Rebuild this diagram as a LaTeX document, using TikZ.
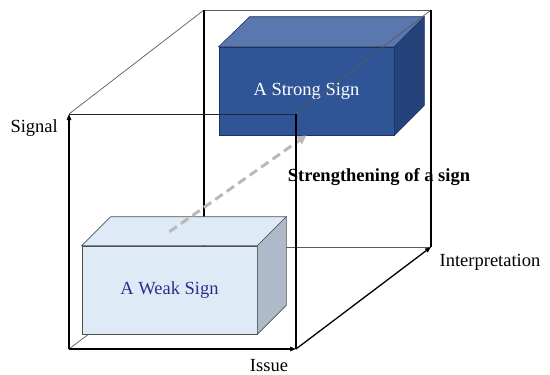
\documentclass[tikz,border=0pt]{standalone}
\usepackage{fontspec}
\setmainfont{Liberation Serif}
\usetikzlibrary{arrows.meta, calc, positioning}

\definecolor{strongFront}{RGB}{47,85,151}
\definecolor{strongTop}{RGB}{90,120,174}
\definecolor{strongSide}{RGB}{37,66,122}
\definecolor{strongLine}{RGB}{30,50,95}
\definecolor{weakFront}{RGB}{222,235,247}
\definecolor{weakSide}{RGB}{174,186,202}
\definecolor{weakText}{RGB}{44,46,140}
\definecolor{weakLine}{RGB}{80,80,80}

\begin{document}
\begin{tikzpicture}[
    x=1pt, y=-1pt,          % pixel units, y runs downwards
    >={Triangle[length=6pt,width=4.5pt]},
    lbl/.style={font=\fontsize{18.5}{21}\selectfont, inner sep=0pt},
    axis/.style={line width=1.3pt, black},
    post/.style={line width=1.2pt, black},
    rim/.style={line width=0.7pt, black!65},
    weakface/.style={draw=weakLine, line width=0.6pt, fill=weakFront},
    strongface/.style={draw=strongLine, line width=0.6pt, fill=strongFront},
    frontbox/.style={minimum width=175pt, minimum height=88pt, inner sep=0pt,
        font=\fontsize{18.5}{21}\selectfont},
    growth/.style={line width=3pt, gray!55, dash pattern=on 9pt off 5pt,
        -{Triangle[length=9pt,width=9pt]}}
]
    \useasboundingbox (0,0) rectangle (550,375);

    % --- Cube corners ---
    \coordinate (origin) at (69,349);
    \coordinate (ftl) at (69,114);
    \coordinate (ftr) at (296,114);
    \coordinate (fbr) at (296,349);
    \coordinate (bbl) at (204,247);
    \coordinate (btl) at (204,10);
    \coordinate (btr) at (431,10);
    \coordinate (bbr) at (431,247);

    % --- Strong sign (back, top) ---
    \node[frontbox, strongface, text=white] (strong) at (306.5,91) {A Strong Sign};
    \filldraw[draw=strongLine, line width=0.6pt, fill=strongTop]
        (strong.north west) -- ++(31,-30) -- ($(strong.north east)+(30,-30)$)
        -- (strong.north east) -- cycle;
    \filldraw[draw=strongLine, line width=0.6pt, fill=strongSide]
        (strong.north east) -- ++(30,-30) -- ($(strong.south east)+(30,-30)$)
        -- (strong.south east) -- cycle;

    % --- Back edges of the cube ---
    \draw[rim] (btl) -- (btr);
    \draw[rim] (bbl) -- (bbr);
    \draw[rim] (ftl) -- (btl);
    \draw[rim] (ftr) -- (btr);
    \draw[rim] (origin) -- (bbl);
    \draw[post] (btl) -- (bbl);
    \draw[post] (btr) -- (bbr);
    \draw[axis, ->] (fbr) -- (bbr);

    % --- Weak sign (front, bottom) ---
    \node[frontbox, weakface, text=weakText] (weak) at (169.5,290) {A Weak Sign};
    \filldraw[weakface]
        (weak.north west) -- ++(29,-29) -- ($(weak.north east)+(29,-29)$)
        -- (weak.north east) -- cycle;
    \filldraw[draw=weakLine, line width=0.6pt, fill=weakSide]
        (weak.north east) -- ++(29,-29) -- ($(weak.south east)+(29,-29)$)
        -- (weak.south east) -- cycle;

    % --- Strengthening arrow ---
    \coordinate (weaktop) at ($(weak.north)+(0,-14)$);
    \draw[growth] (weaktop) -- (strong.south);

    % --- Front edges of the cube ---
    \draw[line width=0.8pt, black!85] (ftl) -- (ftr);
    \draw[post] (ftr) -- (fbr);
    \draw[axis, ->] (origin) -- (ftl);
    \draw[axis, ->] (origin) -- (fbr);

    % --- Labels ---
    \node[lbl, anchor=east] (signal) at (58,128) {Signal};
    \node[lbl] (issue) at (269,366) {Issue};
    \node[lbl] (interp) at (490,262) {Interpretation};
    \node[lbl, font=\fontsize{18.5}{21}\selectfont\bfseries] (strengthen) at (379,177)
        {Strengthening of a sign};
\end{tikzpicture}
\end{document}
